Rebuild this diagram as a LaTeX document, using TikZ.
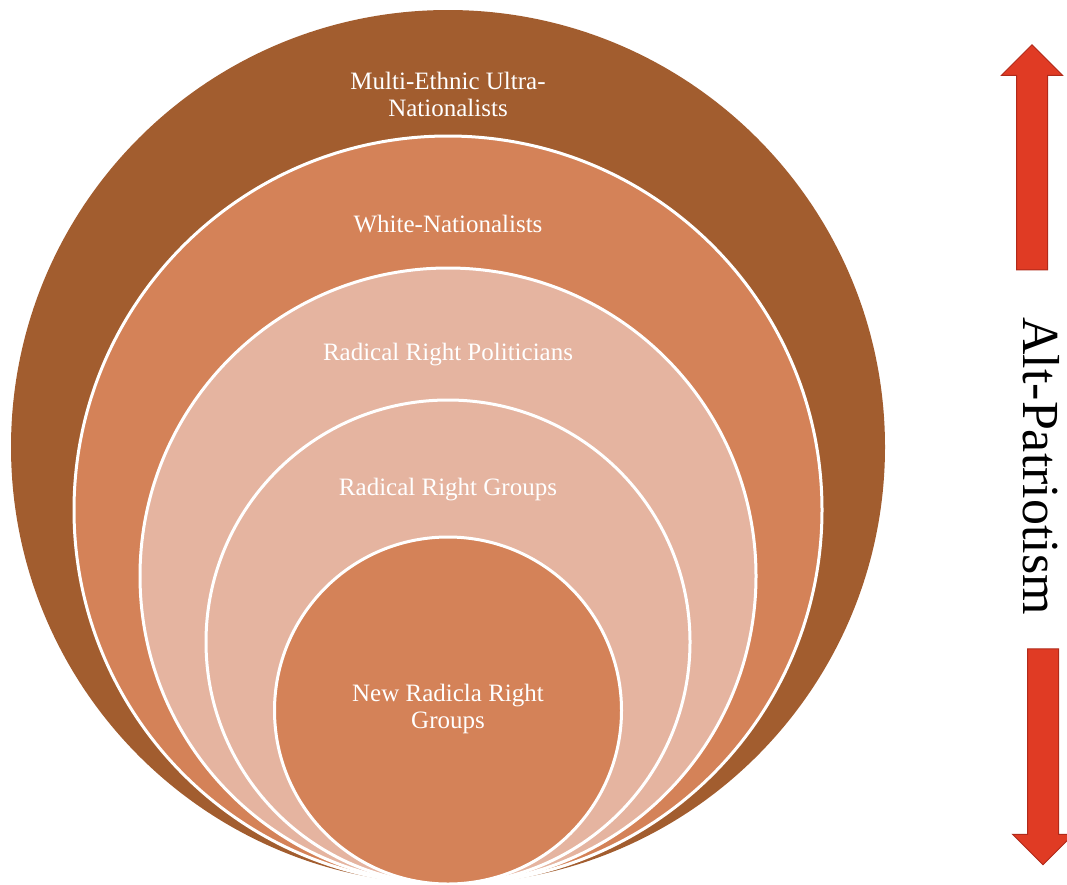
\documentclass[tikz,border=0pt]{standalone}
\usepackage{fontspec}
\setmainfont{Liberation Serif}
\usetikzlibrary{positioning,calc,shapes.arrows}
\definecolor{ringbrown}{RGB}{162,93,47}
\definecolor{ringorange}{RGB}{212,130,88}
\definecolor{ringpink}{RGB}{229,180,160}
\definecolor{arrowred}{RGB}{224,59,36}
\definecolor{arrowedge}{RGB}{176,42,26}
\tikzset{
    ring/.style={circle, draw=white, line width=3pt, inner sep=0pt},
    ringtext/.style={text=white, font=\fontsize{25}{27}\selectfont, align=center},
    bigarrow/.style={single arrow, fill=arrowred, draw=arrowedge, line width=1pt, inner sep=15pt, minimum width=60pt, single arrow head extend=15pt},
}

\begin{document}
\begin{tikzpicture}[x=1pt, y=-1pt]
\useasboundingbox (0,0) rectangle (1067,884);
% five rings, all touching at the bottom
\node[ring, draw=none, fill=ringbrown, minimum size=874pt] (outer) at (448,447) {};
\node[ring, fill=ringorange, minimum size=748pt] (nation) at (448,510) {};
\node[ring, fill=ringpink, minimum size=616pt] (politic) at (448,576) {};
\node[ring, fill=ringpink, minimum size=484pt] (groups) at (448,642) {};
\node[ring, fill=ringorange, minimum size=347pt] (newgroups) at (448,710.5) {};
% the labels
\node[ringtext] (outerlbl) at (448,94) {Multi-Ethnic Ultra-\\Nationalists};
\node[ringtext] (nationlbl) at (448,224) {White-Nationalists};
\node[ringtext] (politiclbl) at (448,355) {Radical Right Politicians};
\node[ringtext] (groupslbl) at (448,490) {Radical Right Groups};
\node[ringtext] (newlbl) at (448,709) {New Radicla Right\\Groups};
% the scale on the right
\node[bigarrow, shape border rotate=90, minimum height=225pt] (uparrow) at (1032,165) {};
\node[bigarrow, shape border rotate=270, minimum height=216pt] (downarrow) at (1043,749) {};
\node[rotate=-90, font=\fontsize{52}{60}\selectfont] (scale) at (1041,466) {Alt-Patriotism};
\end{tikzpicture}
\end{document}
